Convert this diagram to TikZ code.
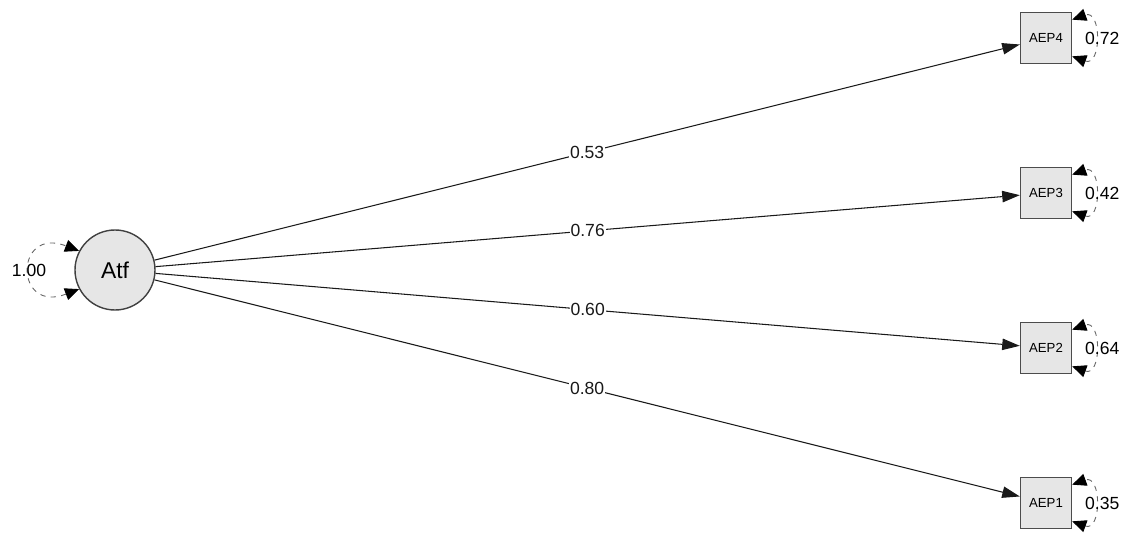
\documentclass[tikz,border=0pt]{standalone}
\usepackage{fontspec}
\setmainfont{Liberation Sans}
\usetikzlibrary{arrows.meta,positioning}
\definecolor{nodegray}{RGB}{230,230,230}
\colorlet{edgeline}{black!90}

\begin{document}
\begin{tikzpicture}[font=\small,
  latent/.style={circle, draw=black!75, fill=nodegray, thick, minimum size=1.6cm, inner sep=0pt, font=\fontsize{13}{15}\selectfont},
  manifest/.style={rectangle, draw=black!70, fill=nodegray, thick, minimum size=1.02cm, inner sep=0pt, font=\fontsize{7.5}{8}\selectfont},
  loading/.style={edgeline, line width=0.6pt, -{Triangle[length=10pt,width=6.5pt]}},
  resid/.style={dashed, black!60, line width=0.5pt, {Triangle[length=8pt,width=7pt,black]}-{Triangle[length=8pt,width=7pt,black]}},
  coef/.style={fill=white, inner sep=0.6pt, font=\fontsize{10}{11}\selectfont},
  varlab/.style={inner sep=0pt, font=\fontsize{10}{11}\selectfont}
]
  \useasboundingbox (0,0) rectangle (22.58,10.68);

  % factor and indicators
  \node[latent] (Atf) at (2.30,5.28) {Atf};
  \node[manifest] (AEP4) at (20.92,9.92) {AEP4};
  \node[manifest] (AEP3) at (20.92,6.82) {AEP3};
  \node[manifest] (AEP2) at (20.92,3.72) {AEP2};
  \node[manifest] (AEP1) at (20.92,0.62) {AEP1};

  % loadings
  \draw[loading] (Atf) -- (AEP4) node[coef, midway] {0.53};
  \draw[loading] (Atf) -- (AEP3) node[coef, midway] {0.76};
  \draw[loading] (Atf) -- (AEP2) node[coef, midway] {0.60};
  \draw[loading] (Atf) -- (AEP1) node[coef, midway] {0.80};

  % variances
  \draw[resid] (Atf.208) .. controls +(-1.3,-0.5) and +(-1.3,0.5) .. (Atf.152);
  \node[varlab] (vAtf) at (0.58,5.28) {1.00};
  \foreach \v/\val in {AEP4/0.72, AEP3/0.42, AEP2/0.64, AEP1/0.35} {
    \draw[resid] (\v.-35) to[out=-20, in=20, looseness=2.2] (\v.35);
    \node[varlab] (r\v) at ([xshift=0.6cm]\v.east) {\val};
  }
\end{tikzpicture}
\end{document}
